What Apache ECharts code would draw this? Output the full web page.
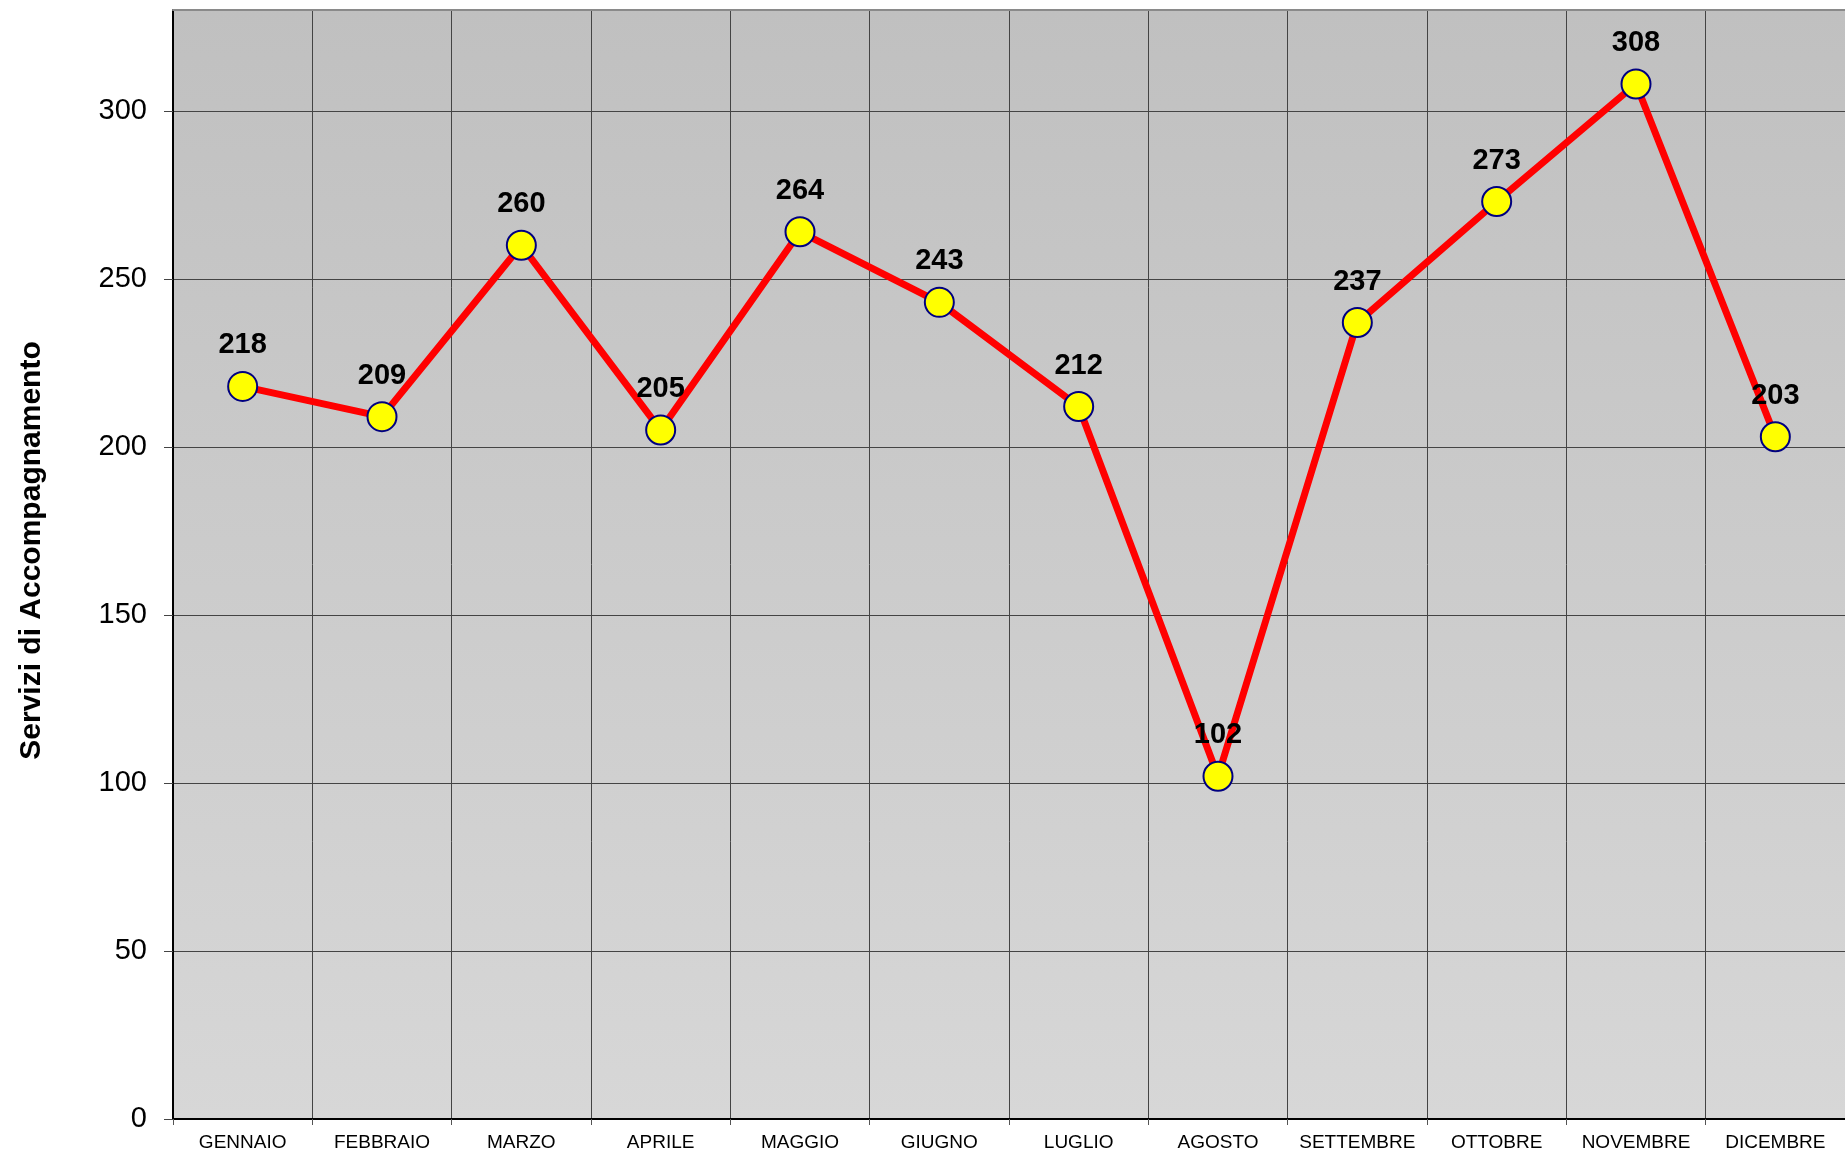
<!DOCTYPE html>
<html>
<head>
<meta charset="utf-8">
<script src="https://cdn.jsdelivr.net/npm/echarts@6/dist/echarts.min.js"></script>
<style>
html,body{margin:0;padding:0;background:#fff;}
#chart{width:1845px;height:1154px;}
</style>
</head>
<body>
<div id="chart"></div>
<script>
const categories = ['GENNAIO','FEBBRAIO','MARZO','APRILE','MAGGIO','GIUGNO','LUGLIO','AGOSTO','SETTEMBRE','OTTOBRE','NOVEMBRE','DICEMBRE'];
const values = [218, 209, 260, 205, 264, 243, 212, 102, 237, 273, 308, 203];
const yTitle = 'Servizi di Accompagnamento';

const chart = echarts.init(document.getElementById('chart'), null, {renderer: 'canvas'});
const font = '"Liberation Sans", Arial, sans-serif';
chart.setOption({
  animation: false,
  backgroundColor: '#ffffff',
  grid: {
    left: 173, right: 0, top: 10, bottom: 35,
    show: true, borderWidth: 0,
    backgroundColor: {
      type: 'linear', x: 0, y: 0, x2: 0, y2: 1,
      colorStops: [{offset: 0, color: '#c0c0c0'}, {offset: 1, color: '#d7d7d7'}]
    }
  },
  xAxis: [{
    type: 'category',
    data: categories,
    boundaryGap: true,
    axisLine: {show: true, lineStyle: {color: '#000', width: 2}},
    axisTick: {show: true, length: 6, lineStyle: {color: '#555', width: 1}},
    axisLabel: {color: '#000', fontSize: 19, fontFamily: font, margin: 14, interval: 0},
    splitLine: {show: true, lineStyle: {color: '#444', width: 1}}
  }, {
    type: 'category',
    data: categories,
    position: 'top',
    axisLine: {show: true, lineStyle: {color: '#8a8a8a', width: 2}},
    axisTick: {show: false},
    axisLabel: {show: false},
    splitLine: {show: false}
  }],
  yAxis: {
    type: 'value',
    min: 0, max: 330, interval: 50,
    name: yTitle,
    nameLocation: 'middle',
    nameGap: 126,
    nameTextStyle: {color: '#000', fontSize: 30, fontWeight: 'bold', fontFamily: font, padding: [0, 0, 0, 28]},
    axisLine: {show: true, lineStyle: {color: '#000', width: 2}},
    axisTick: {show: true, length: 9, lineStyle: {color: '#444', width: 1}},
    axisLabel: {color: '#000', fontSize: 29, fontFamily: font, margin: 26, showMaxLabel: false,
      formatter: v => (v % 50 === 0 ? String(v) : '')},
    splitLine: {show: true, lineStyle: {color: '#444', width: 1}}
  },
  series: [{
    type: 'line',
    data: values,
    xAxisIndex: 0,
    symbol: 'circle',
    symbolSize: 29,
    lineStyle: {color: '#ff0000', width: 7},
    itemStyle: {color: '#ffff00', borderColor: '#000080', borderWidth: 2},
    label: {show: true, position: 'top', distance: 11, color: '#000', fontSize: 29, fontWeight: 'bold', fontFamily: font},
    z: 5
  }]
});
</script>
</body>
</html>
